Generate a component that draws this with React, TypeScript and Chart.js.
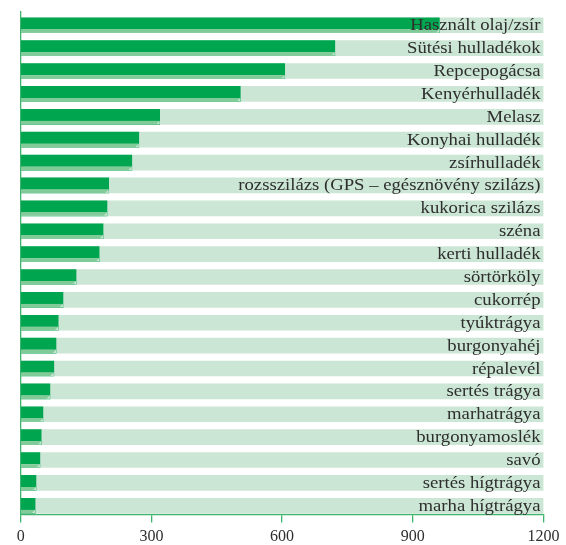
import React, { useEffect, useRef } from "react";
import { Chart, registerables } from "chart.js";

Chart.register(...registerables);

const categories: string[] = [
  "Használt olaj/zsír",
  "Sütési hulladékok",
  "Repcepogácsa",
  "Kenyérhulladék",
  "Melasz",
  "Konyhai hulladék",
  "zsírhulladék",
  "rozsszilázs (GPS – egésznövény szilázs)",
  "kukorica szilázs",
  "széna",
  "kerti hulladék",
  "sörtörköly",
  "cukorrép",
  "tyúktrágya",
  "burgonyahéj",
  "répalevél",
  "sertés trágya",
  "marhatrágya",
  "burgonyamoslék",
  "savó",
  "sertés hígtrágya",
  "marha hígtrágya",
];

const values: number[] = [
  961, 721, 606, 504, 319, 271, 255, 202, 198, 189, 180, 127, 97, 86, 81, 76, 67,
  51, 47, 44, 35, 33,
];

const axisMax = 1200;
const tickStep = 300;

const GREEN = "#00a54f";
const SHADOW = "#80cb98";
const BAND = "#cce6d5";
const AXIS = "#3fb46c";
const TEXT = "#2e2e2e";

export default function App() {
  const ref = useRef<HTMLCanvasElement | null>(null);

  useEffect(() => {
    if (!ref.current) return;
    const labelPlugin = {
      id: "labelsAndShadow",
      afterDatasetsDraw(chart: any) {
        const ctx = chart.ctx;
        const meta = chart.getDatasetMeta(1);
        const xs = chart.scales.x;
        const ys = chart.scales.y;
        ctx.save();
        meta.data.forEach((el: any) => {
          const p = el.getProps(["x", "y", "base", "height"], true);
          const bottom = p.y + p.height / 2;
          const sh = 3.4;
          ctx.fillStyle = BAND;
          ctx.fillRect(p.base, bottom - sh, p.x - p.base, sh);
          ctx.fillStyle = SHADOW;
          ctx.beginPath();
          ctx.moveTo(p.base, bottom - sh);
          ctx.lineTo(p.x, bottom - sh);
          ctx.lineTo(p.x - sh, bottom);
          ctx.lineTo(p.base, bottom);
          ctx.closePath();
          ctx.fill();
        });
        const right = xs.getPixelForValue(axisMax) - 3;
        ctx.fillStyle = TEXT;
        ctx.textAlign = "right";
        ctx.textBaseline = "alphabetic";
        ctx.font = '17px "Liberation Serif"';
        categories.forEach((c, i) => {
          const y = ys.getPixelForValue(i) + 5;
          ctx.save();
          ctx.translate(right, y);
          ctx.scale(1.1, 1);
          ctx.fillText(c, 0, 0);
          ctx.restore();
        });
        ctx.restore();
      },
    };

    const chart = new Chart(ref.current, {
      type: "bar",
      data: {
        datasets: [
          {
            label: "band",
            data: categories.map((_, i) => ({ x: axisMax, y: i })),
            backgroundColor: BAND,
            barThickness: 15,
            grouped: false,
            order: 2,
          } as any,
          {
            label: "value",
            data: values.map((v, i) => ({ x: v, y: i })),
            backgroundColor: GREEN,
            barThickness: 15,
            grouped: false,
            order: 1,
          } as any,
        ],
      },
      options: {
        indexAxis: "y",
        animation: false,
        responsive: false,
        devicePixelRatio: 1,
        layout: { padding: { left: 20.7, right: 22, top: 11, bottom: -6.5 } },
        plugins: {
          legend: { display: false },
          tooltip: { enabled: false },
        },
        scales: {
          y: {
            type: "linear",
            display: false,
            reverse: true,
            offset: false,
            grace: 0,
            min: -0.624,
            max: 21.38,
          },
          x: {
            type: "linear",
            min: 0,
            max: axisMax,
            z: 1,
            offset: false,
            border: { display: true, color: AXIS, width: 1.3 },
            grid: {
              drawOnChartArea: true,
              drawTicks: true,
              tickLength: 8,
              lineWidth: 1.3,
              color: (c: any) => (c.tick && c.tick.value === 0 ? AXIS : "rgba(0,0,0,0)"),
              tickColor: AXIS,
            },
            ticks: {
              stepSize: tickStep,
              padding: 6.5,
              color: TEXT,
              font: { family: '"Liberation Serif"', size: 16, lineHeight: 1.0 },
              maxRotation: 0,
              callback: (v: any) => String(v),
            },
          },
        },
      },
      plugins: [labelPlugin],
    } as any);
    return () => chart.destroy();
  }, []);

  return (
    <div style={{ position: "absolute", left: 0, top: 0, width: 566, height: 545 }}>
      <canvas ref={ref} width={566} height={545} />
    </div>
  );
}
